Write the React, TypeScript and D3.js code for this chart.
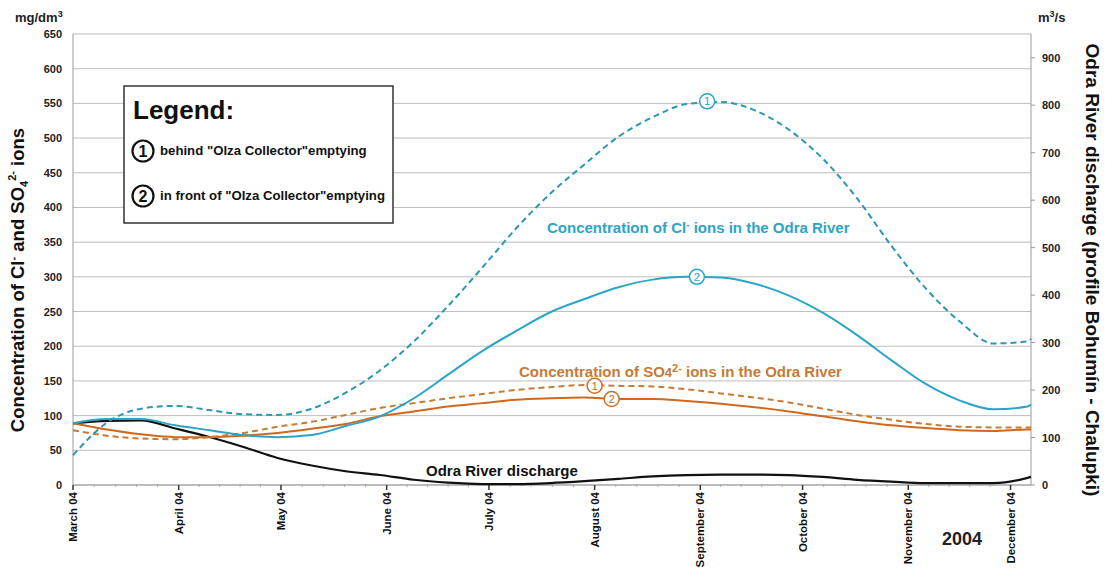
import React from 'react';
import * as d3 from 'd3';

// sample dates (every 10 days) and readings
const dates = [
  '2004-03-01', '2004-03-11', '2004-03-21', '2004-03-31', '2004-04-10', '2004-04-20',
  '2004-04-30', '2004-05-10', '2004-05-20', '2004-05-30', '2004-06-09', '2004-06-19',
  '2004-06-29', '2004-07-09', '2004-07-19', '2004-07-29', '2004-08-08', '2004-08-18',
  '2004-08-28', '2004-09-07', '2004-09-17', '2004-09-27', '2004-10-07', '2004-10-17',
  '2004-10-27', '2004-11-06', '2004-11-16', '2004-11-26', '2004-12-06', '2004-12-07',
];
const clBehind = [43, 90, 110, 114, 108, 102, 101, 110, 133, 165, 207, 258, 313, 370, 420, 462, 502, 530, 549, 552, 540, 512, 470, 413, 345, 284, 236, 204, 207, 211];
const clFront = [89, 95, 95, 86, 79, 72, 69, 72, 85, 99, 125, 159, 193, 222, 249, 268, 285, 296, 300, 299, 290, 273, 248, 216, 180, 146, 122, 109, 113, 116];
const so4Behind = [79, 71, 67, 66, 69, 75, 84, 91, 101, 111, 118, 125, 131, 137, 141, 144, 143, 142, 138, 132, 126, 119, 110, 101, 94, 88, 84, 83, 83, 83];
const so4Front = [89, 80, 73, 69, 69, 71, 75, 81, 88, 99, 106, 113, 118, 123, 125, 126, 124, 124, 121, 117, 112, 106, 99, 92, 86, 82, 79, 78, 80, 80];
const discharge = [130, 135, 136, 119, 101, 80, 57, 41, 29, 21, 11, 5, 2, 2, 4, 8, 13, 18, 21, 22, 22, 21, 17, 11, 7, 4, 4, 4, 15, 17];

const monthTicks = ['2004-03-01', '2004-04-01', '2004-05-01', '2004-06-01', '2004-07-01', '2004-08-01', '2004-09-01', '2004-10-01', '2004-11-01', '2004-12-01'];
const monthLabels = ['March 04', 'April 04', 'May 04', 'June 04', 'July 04', 'August 04', 'September 04', 'October 04', 'November 04', 'December 04'];
const leftTicks = d3.range(0, 651, 50);
const rightTicks = d3.range(0, 901, 100);
const legendItems = ['behind "Olza Collector"emptying', 'in front of "Olza Collector"emptying'];

// circled numbers on the curves
const markerDates = ['2004-09-03', '2004-08-31', '2004-08-01', '2004-08-06'];
const markerValues = [553, 300, 143, 124];
const markerLabels = ['1', '2', '1', '2'];
const markerColors = ['#2aa5c6', '#2aa5c6', '#c8702c', '#c8702c'];

const W = 1105;
const H = 569;
const M = { left: 73, right: 1031, top: 34, bottom: 485 };
const TEAL = '#2aa5c6';
const TEAL_D = '#2a97b3';
const ORANGE = '#c87a34';
const ORANGE_S = '#d0691f';
const FONT = '"Liberation Sans", Arial, sans-serif';

const parse = d3.timeParse('%Y-%m-%d');

const App = () => {
  const ds = dates.map(d => parse(d) as Date);
  const x = d3.scaleTime()
    .domain([parse('2004-03-01') as Date, parse('2004-12-07') as Date])
    .range([M.left, M.right]);
  const y = d3.scaleLinear().domain([0, 650]).range([M.bottom, M.top]);
  const yR = d3.scaleLinear().domain([0, 950]).range([M.bottom, M.top]);

  const lineL = d3.line<number>()
    .x((_, i) => x(ds[i]))
    .y(v => y(v))
    .curve(d3.curveMonotoneX);
  const lineR = d3.line<number>()
    .x((_, i) => x(ds[i]))
    .y(v => yR(v))
    .curve(d3.curveMonotoneX);

  // minor ticks: 4 per month
  const months = monthTicks.map(d => parse(d) as Date);
  const minor: number[] = [];
  months.forEach((m, i) => {
    const next = i < months.length - 1 ? months[i + 1] : d3.timeMonth.offset(m, 1);
    const a = x(m);
    const b = x(next);
    for (let k = 1; k < 5; k++) {
      const p = a + ((b - a) * k) / 5;
      if (p <= M.right) minor.push(p);
    }
  });

  return (
    <svg width={W} height={H} style={{ position: 'absolute', left: 0, top: 0, background: '#fff' }} fontFamily={FONT}>
      {/* gridlines */}
      {leftTicks.map(t => (
        <line key={'g' + t} x1={M.left} x2={M.right} y1={y(t)} y2={y(t)} stroke="#bdbdbd" strokeWidth={1} />
      ))}
      {/* axes */}
      <line x1={M.left} x2={M.left} y1={M.top} y2={M.bottom} stroke="#999" />
      <line x1={M.right} x2={M.right} y1={M.top} y2={M.bottom} stroke="#999" />
      <line x1={M.left} x2={M.right} y1={M.bottom} y2={M.bottom} stroke="#999" />
      {leftTicks.map(t => (
        <text key={'l' + t} x={62} y={y(t) + 4} textAnchor="end" fontSize={11} fontWeight="bold" fill="#222">{t}</text>
      ))}
      {rightTicks.map(t => (
        <g key={'r' + t}>
          <line x1={M.right} x2={M.right + 4} y1={yR(t)} y2={yR(t)} stroke="#999" />
          <text x={1042} y={yR(t) + 4} fontSize={11} fontWeight="bold" fill="#222">{t}</text>
        </g>
      ))}
      {months.map((m, i) => (
        <g key={'m' + i}>
          <line x1={x(m)} x2={x(m)} y1={M.bottom} y2={M.bottom + 5} stroke="#333" strokeWidth={1.5} />
          <text transform={`translate(${x(m) + 4},${M.bottom + 7}) rotate(-90)`} textAnchor="end" fontSize={11.5} fontWeight="bold" fill="#111">
            {monthLabels[i]}
          </text>
        </g>
      ))}
      {minor.map((p, i) => (
        <line key={'n' + i} x1={p} x2={p} y1={M.bottom - 1} y2={M.bottom + 2} stroke="#aaa" />
      ))}

      {/* unit labels */}
      <text x={15} y={22} fontSize={13} fontWeight="bold" fill="#222">mg/dm<tspan dy={-5} fontSize={9}>3</tspan></text>
      <text x={1038} y={22} fontSize={13} fontWeight="bold" fill="#222">m<tspan dy={-5} fontSize={9}>3</tspan><tspan dy={5}>/s</tspan></text>

      {/* axis titles */}
      <text transform="translate(24,280) rotate(-90)" textAnchor="middle" fontSize={18.5} fontWeight="bold" fill="#111">
        Concentration of Cl<tspan dy={-7} fontSize={11}>-</tspan><tspan dy={7}> and SO</tspan><tspan dy={4} fontSize={11}>4</tspan><tspan dy={-12} fontSize={11}>2-</tspan><tspan dy={8}> ions</tspan>
      </text>
      <text transform="translate(1086,270) rotate(90)" textAnchor="middle" fontSize={19} fontWeight="bold" fill="#111">
        Odra River discharge (profile Bohumín - Chalupki)
      </text>

      {/* series */}
      <path d={lineR(discharge) || ''} fill="none" stroke="#111" strokeWidth={2.2} />
      <path d={lineL(so4Front) || ''} fill="none" stroke={ORANGE_S} strokeWidth={2} />
      <path d={lineL(so4Behind) || ''} fill="none" stroke={ORANGE} strokeWidth={2} strokeDasharray="6 4" />
      <path d={lineL(clFront) || ''} fill="none" stroke={TEAL} strokeWidth={2} />
      <path d={lineL(clBehind) || ''} fill="none" stroke={TEAL_D} strokeWidth={2} strokeDasharray="6 4" />

      {markerDates.map((d, i) => {
        const cx = x(parse(d) as Date);
        const cy = y(markerValues[i]);
        return (
          <g key={'k' + i}>
            <circle cx={cx} cy={cy} r={7.5} fill="#fff" stroke={markerColors[i]} strokeWidth={1.5} />
            <text x={cx} y={cy + 4} textAnchor="middle" fontSize={11.5} fill={markerColors[i]}>{markerLabels[i]}</text>
          </g>
        );
      })}

      {/* series labels */}
      <text x={547} y={233} fontSize={15} fontWeight="bold" fill={TEAL}>
        Concentration of Cl<tspan dy={-5} fontSize={10}>-</tspan><tspan dy={5}> ions in the Odra River</tspan>
      </text>
      <text x={519} y={377} fontSize={15} fontWeight="bold" fill={ORANGE}>
        Concentration of SO<tspan fontSize={13}>4</tspan><tspan dy={-5} fontSize={11}>2-</tspan><tspan dy={5}> ions in the Odra River</tspan>
      </text>
      <text x={426} y={476} fontSize={15} fontWeight="bold" fill="#111">Odra River discharge</text>
      <text x={962} y={545} textAnchor="middle" fontSize={18} fontWeight="bold" fill="#222">2004</text>

      {/* legend */}
      <rect x={124} y={86} width={269} height={137} fill="#fff" stroke="#333" strokeWidth={1.5} />
      <text x={133} y={119} fontSize={26} fontWeight="bold" fill="#111">Legend:</text>
      {legendItems.map((t, i) => (
        <g key={'lg' + i}>
          <circle cx={143} cy={151 + i * 45} r={10.5} fill="#fff" stroke="#111" strokeWidth={2.2} />
          <text x={143} y={157 + i * 45} textAnchor="middle" fontSize={16} fontWeight="bold" fill="#111">{i + 1}</text>
          <text x={160} y={155 + i * 45} fontSize={13.2} fontWeight="bold" fill="#111">{t}</text>
        </g>
      ))}
    </svg>
  );
};

export default App;
